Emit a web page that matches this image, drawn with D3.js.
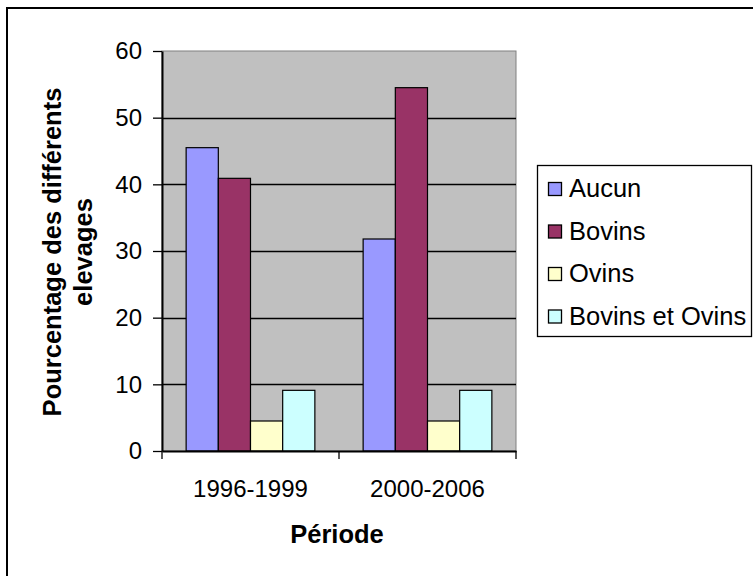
<!DOCTYPE html>
<html>
<head>
<meta charset="utf-8">
<script src="https://cdn.jsdelivr.net/npm/d3@7/dist/d3.min.js"></script>
<style>
  html, body { margin: 0; padding: 0; background: #fff; }
  svg { display: block; font-family: "Liberation Sans", Arial, sans-serif; }
</style>
</head>
<body>
<svg id="chart" width="753" height="576"></svg>
<script>
// Périodes (catégories) et séries
const periods = ["1996-1999", "2000-2006"];
const seriesNames = ["Aucun", "Bovins", "Ovins", "Bovins et Ovins"];
const aucun = [45.5, 31.8];
const bovins = [40.9, 54.5];
const ovins = [4.5, 4.5];
const bovinsOvins = [9.1, 9.1];
const seriesColors = ["#9999FF", "#993366", "#FFFFCC", "#CCFFFF"];
const yTicks = [0, 10, 20, 30, 40, 50, 60];

const seriesValues = [aucun, bovins, ovins, bovinsOvins];
const FONT = "Liberation Sans, Arial, sans-serif";

const svg = d3.select("#chart");

// Cadre extérieur
svg.append("rect")
  .attr("x", 7).attr("y", 8)
  .attr("width", 800).attr("height", 700)
  .attr("fill", "#fff").attr("stroke", "#000").attr("stroke-width", 2);

const plot = { left: 162, right: 516, top: 51, bottom: 451 };

const y = d3.scaleLinear().domain([0, 60]).range([plot.bottom, plot.top]);
const x0 = d3.scaleBand().domain(periods).range([plot.left, plot.right]);

// Fond de la zone de tracé
svg.append("rect")
  .attr("x", plot.left).attr("y", plot.top)
  .attr("width", plot.right - plot.left).attr("height", plot.bottom - plot.top)
  .attr("fill", "#C0C0C0").attr("stroke", "#808080").attr("stroke-width", 1);

// Quadrillage horizontal
svg.append("g")
  .selectAll("line")
  .data(yTicks.filter(d => d > 0 && d < 60))
  .join("line")
  .attr("x1", plot.left).attr("x2", plot.right)
  .attr("y1", d => Math.round(y(d)) + 0.5).attr("y2", d => Math.round(y(d)) + 0.5)
  .attr("stroke", "#000").attr("stroke-width", 1.3);

// Barres : 4 barres par groupe, écart de 150 % de la largeur d'une barre
const bw = x0.bandwidth() / 5.5;
const groups = svg.append("g")
  .selectAll("g")
  .data(periods)
  .join("g")
  .attr("transform", d => `translate(${x0(d) + 0.75 * bw},0)`);

groups.selectAll("rect")
  .data((p, i) => seriesNames.map((s, k) => ({ s, k, v: seriesValues[k][i] })))
  .join("rect")
  .attr("x", d => d.k * bw)
  .attr("y", d => y(d.v))
  .attr("width", bw)
  .attr("height", d => y(0) - y(d.v))
  .attr("fill", d => seriesColors[d.k])
  .attr("stroke", "#000").attr("stroke-width", 1.2);

// Axe Y
const yAxis = svg.append("g")
  .attr("transform", `translate(${plot.left},0)`)
  .call(d3.axisLeft(y).tickValues(yTicks).tickSize(9).tickPadding(11).tickSizeOuter(0));
yAxis.select(".domain").attr("stroke", "#000").attr("stroke-width", 2);
yAxis.selectAll(".tick line").attr("stroke", "#000").attr("stroke-width", 1.3);
yAxis.selectAll("text").attr("font-size", 24).attr("fill", "#000").attr("font-family", FONT);

// Axe X
const xAxis = svg.append("g")
  .attr("transform", `translate(0,${plot.bottom})`)
  .call(d3.axisBottom(x0).tickSize(0).tickPadding(0).tickSizeOuter(0));
xAxis.select(".domain").attr("stroke", "#000").attr("stroke-width", 2);
xAxis.selectAll("text")
  .attr("font-size", 24).attr("fill", "#000").attr("font-family", FONT)
  .attr("dy", null).attr("y", 46);
// Graduations entre les catégories
xAxis.selectAll(".sep")
  .data([plot.left, ...periods.map(p => x0(p) + x0.bandwidth())])
  .join("line")
  .attr("class", "sep")
  .attr("x1", d => d).attr("x2", d => d)
  .attr("y1", 0).attr("y2", 8)
  .attr("stroke", "#000").attr("stroke-width", 1.3);

// Titre de l'axe X
svg.append("text")
  .attr("x", (plot.left + plot.right) / 2 - 2).attr("y", 543)
  .attr("text-anchor", "middle")
  .attr("font-size", 25.5).attr("font-weight", "bold")
  .text("Période");

// Titre de l'axe Y (deux lignes)
const yTitle = svg.append("text")
  .attr("transform", "translate(0,252) rotate(-90)")
  .attr("text-anchor", "middle")
  .attr("font-size", 25.5).attr("font-weight", "bold");
yTitle.append("tspan").attr("x", 0).attr("y", 61).text("Pourcentage des différents");
yTitle.append("tspan").attr("x", 0).attr("y", 92).text("elevages");

// Légende
const legend = svg.append("g");
legend.append("rect")
  .attr("x", 537.5).attr("y", 165.5)
  .attr("width", 214).attr("height", 171)
  .attr("fill", "#fff").attr("stroke", "#000").attr("stroke-width", 1.3);

const items = legend.selectAll("g.item")
  .data(seriesNames)
  .join("g")
  .attr("class", "item")
  .attr("transform", (d, i) => `translate(0,${197 + i * 42.5})`);
items.append("rect")
  .attr("x", 548.5).attr("y", -14.5)
  .attr("width", 13).attr("height", 13)
  .attr("fill", (d, i) => seriesColors[i])
  .attr("stroke", "#000").attr("stroke-width", 1.3);
items.append("text")
  .attr("x", 569).attr("y", 0)
  .attr("font-size", 25.5)
  .text(d => d);
</script>
</body>
</html>
